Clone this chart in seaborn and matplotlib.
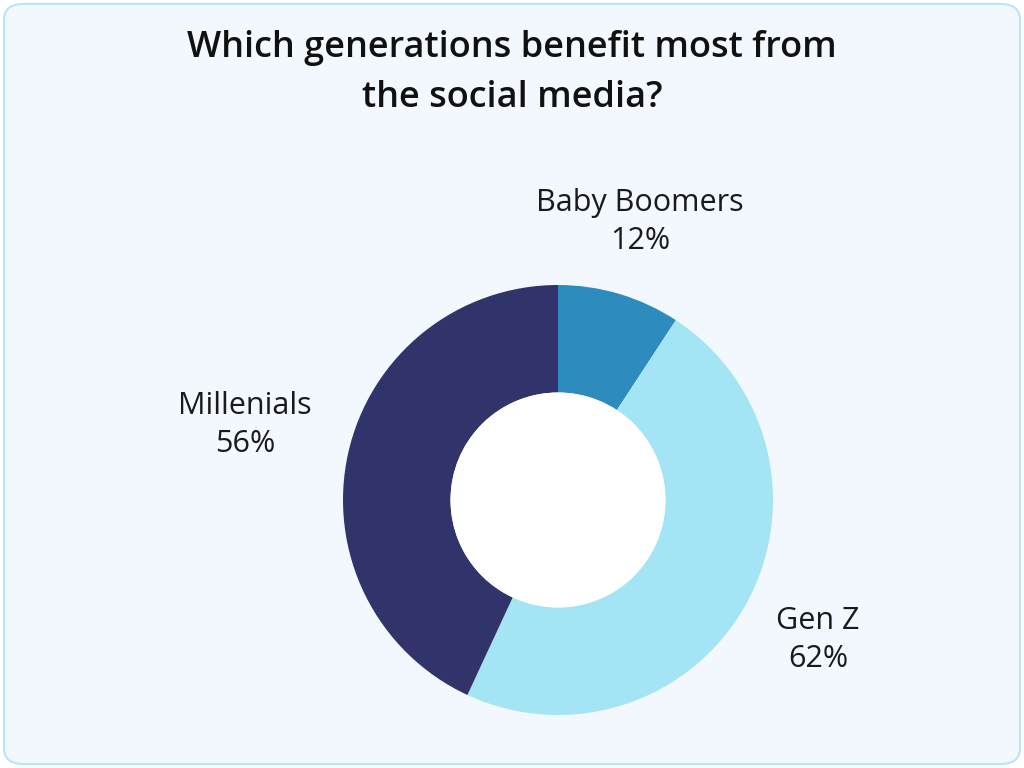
import matplotlib.pyplot as plt
import seaborn as sns
from matplotlib.patches import FancyBboxPatch, Circle

# data
generations = ["Baby Boomers", "Gen Z", "Millenials"]
shares = [12, 62, 56]
colors = ["#2e8bbd", "#a3e4f5", "#31346b"]

sns.set_style("white")
plt.rcParams['font.family'] = ['Open Sans', 'DejaVu Sans']

fig = plt.figure(figsize=(10.24, 7.68), dpi=100)
fig.patch.set_facecolor("white")
fig.patches.append(FancyBboxPatch((0.004, 0.005), 0.992, 0.99, boxstyle="round,pad=0,rounding_size=0.02",
                                  transform=fig.transFigure, facecolor="#f3f8fe", edgecolor="#b8e6f7",
                                  linewidth=1.5, zorder=-10))

# axes in which 1 data unit = 215 px, centred on the donut
ax = fig.add_axes([0, 0, 1, 1], zorder=5)
ax.patch.set_alpha(0)

ax.pie(shares, colors=colors, startangle=90, counterclock=False, radius=1,
       wedgeprops=dict(width=0.5, edgecolor="none"))
ax.add_patch(Circle((0, 0), 0.5, facecolor="white", edgecolor="none"))
ax.set_xlim(-558 / 215, (1024 - 558) / 215)
ax.set_ylim(-(768 - 500) / 215, 500 / 215)
ax.set_aspect("auto")
ax.axis("off")

label_pos = [(640, 222), (818, 640), (245, 425)]
for name, val, (px, py) in zip(generations, shares, label_pos):
    ax.text((px - 558) / 215, (500 - py) / 215, f"{name}\n{val}%", ha="center", va="center",
            fontsize=22, color="#1a1a1a", linespacing=1.35)

fig.text(0.5, 0.905, "Which generations benefit most from\nthe social media?", ha="center", va="center",
         fontsize=26, color="#111111", linespacing=1.55, fontstretch="condensed", fontweight="semibold")

fig.savefig("out.png", dpi=100)
